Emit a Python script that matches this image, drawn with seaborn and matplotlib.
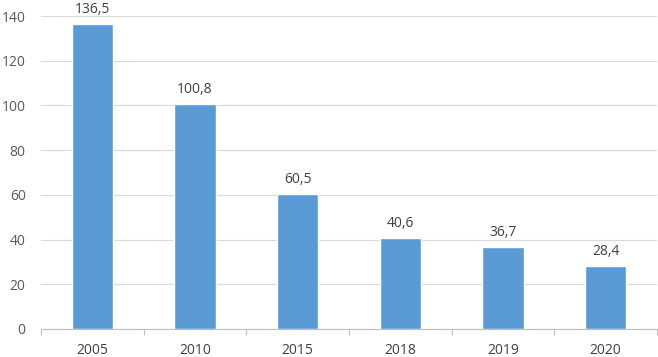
import matplotlib
matplotlib.use("Agg")
import matplotlib.pyplot as plt
import seaborn as sns
import pandas as pd

years = ["2005", "2010", "2015", "2018", "2019", "2020"]
values = [136.5, 100.8, 60.5, 40.6, 36.7, 28.4]
labels = ["136,5", "100,8", "60,5", "40,6", "36,7", "28,4"]
yticks = [0, 20, 40, 60, 80, 100, 120, 140]

sns.set_theme(style="white")
plt.rcParams['font.family'] = ['Open Sans', 'DejaVu Sans']

df = pd.DataFrame({"year": years, "value": values})
fig = plt.figure(figsize=(6.58, 3.57), dpi=100)
ax = fig.add_axes([41/658, 1-329/357, 616/658, (329-16)/357])
sns.barplot(data=df, x="year", y="value", color="#5B9BD5", width=0.4,
            saturation=1, ax=ax, zorder=3)
ax.set_ylim(0, 140)
ax.set_xlim(-0.5, 5.5)
ax.set_yticks(yticks)
ax.yaxis.grid(True, color="#D9D9D9", linewidth=0.8, zorder=0)
ax.set_xlabel("")
ax.set_ylabel("")
for s in ["top", "right", "left"]:
    ax.spines[s].set_visible(False)
ax.spines["bottom"].set_color("#BFBFBF")
ax.spines["bottom"].set_linewidth(0.8)
ax.tick_params(axis="y", length=0, labelsize=10, labelcolor="#595959", pad=11)
ax.tick_params(axis="x", length=0, labelsize=10, labelcolor="#404040", pad=10)
# boundary ticks between categories
ax.set_xticks([-0.5 + i for i in range(7)], minor=True)
ax.tick_params(axis="x", which="minor", length=4, color="#BFBFBF", width=0.8, bottom=True)
for i, (v, t) in enumerate(zip(values, labels)):
    ax.annotate(t, (i, v), xytext=(0, 5), textcoords="offset points",
                ha="center", va="bottom", fontsize=10, color="#404040",
                annotation_clip=False)
fig.savefig("out.png", dpi=100)
